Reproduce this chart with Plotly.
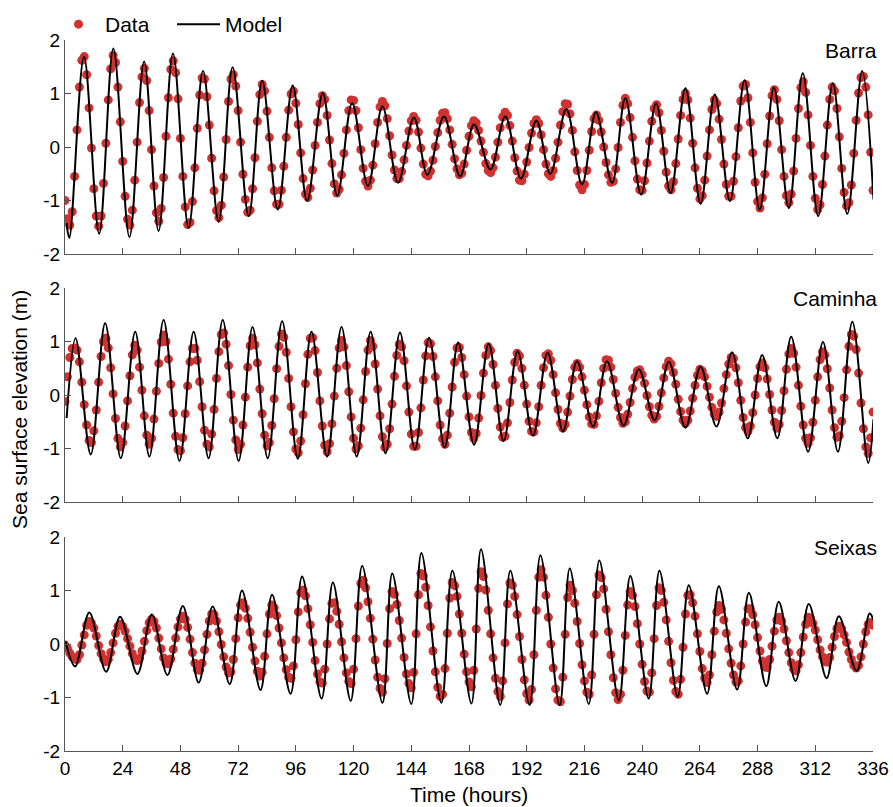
import plotly.graph_objects as go
from plotly.subplots import make_subplots

# ---------------- data ----------------
TICKS_X = [0, 24, 48, 72, 96, 120, 144, 168, 192, 216, 240, 264, 288, 312, 336]
TICKS_Y = [-2, -1, 0, 1, 2]
TICKTEXT_Y = ["-2", "-1", "0", "1", "2"]
STATIONS = ["Barra", "Caminha", "Seixas"]

# hourly observations (m)
BARRA_DATA = [
    -1.0, -1.34, -1.46, -1.21, -0.55, 0.32, 1.12, 1.62, 1.69, 1.35,
    0.73, -0.02, -0.78, -1.29, -1.48, -1.29, -0.68, 0.07, 0.88, 1.46,
    1.71, 1.58, 1.12, 0.47, -0.27, -0.92, -1.35, -1.46, -1.18, -0.62,
    0.09, 0.83, 1.31, 1.47, 1.24, 0.68, -0.05, -0.73, -1.23, -1.39,
    -1.15, -0.57, 0.2, 0.92, 1.45, 1.61, 1.39, 0.9, 0.16, -0.55,
    -1.12, -1.45, -1.41, -1.02, -0.39, 0.35, 0.97, 1.29, 1.27, 0.94,
    0.41, -0.21, -0.82, -1.19, -1.32, -1.09, -0.56, 0.14, 0.85, 1.27,
    1.35, 1.14, 0.68, 0.09, -0.51, -0.98, -1.22, -1.18, -0.78, -0.2,
    0.48, 0.98, 1.17, 1.05, 0.67, 0.18, -0.39, -0.82, -1.07, -1.07,
    -0.81, -0.36, 0.18, 0.69, 0.99, 1.04, 0.82, 0.42, -0.11, -0.59,
    -0.88, -0.94, -0.77, -0.43, 0.03, 0.46, 0.81, 0.96, 0.89, 0.59,
    0.13, -0.31, -0.69, -0.86, -0.79, -0.52, -0.12, 0.32, 0.68, 0.88,
    0.87, 0.68, 0.36, -0.05, -0.4, -0.64, -0.73, -0.62, -0.34, 0.06,
    0.46, 0.75, 0.85, 0.77, 0.53, 0.21, -0.15, -0.43, -0.59, -0.59,
    -0.46, -0.24, 0.03, 0.3, 0.49, 0.57, 0.5, 0.28, -0.02, -0.32,
    -0.51, -0.54, -0.45, -0.25, 0.01, 0.27, 0.5, 0.63, 0.64, 0.53,
    0.32, 0.05, -0.22, -0.41, -0.52, -0.49, -0.32, -0.06, 0.2, 0.4,
    0.49, 0.45, 0.31, 0.11, -0.1, -0.31, -0.44, -0.48, -0.39, -0.19,
    0.09, 0.36, 0.56, 0.65, 0.59, 0.4, 0.11, -0.2, -0.45, -0.62,
    -0.63, -0.51, -0.28, -0.01, 0.26, 0.44, 0.51, 0.44, 0.23, -0.05,
    -0.32, -0.5, -0.55, -0.44, -0.21, 0.09, 0.41, 0.66, 0.81, 0.8,
    0.62, 0.31, -0.09, -0.44, -0.71, -0.8, -0.7, -0.44, -0.06, 0.29,
    0.53, 0.6, 0.5, 0.28, 0.0, -0.29, -0.52, -0.66, -0.64, -0.41,
    -0.01, 0.46, 0.78, 0.91, 0.81, 0.55, 0.18, -0.26, -0.6, -0.8,
    -0.81, -0.63, -0.3, 0.11, 0.48, 0.72, 0.79, 0.64, 0.31, -0.08,
    -0.47, -0.73, -0.8, -0.65, -0.31, 0.15, 0.59, 0.89, 1.0, 0.88,
    0.54, 0.07, -0.39, -0.77, -0.97, -0.91, -0.62, -0.17, 0.32, 0.7,
    0.88, 0.81, 0.52, 0.14, -0.32, -0.7, -0.92, -0.92, -0.64, -0.18,
    0.36, 0.86, 1.14, 1.17, 0.92, 0.46, -0.11, -0.66, -1.02, -1.14,
    -0.95, -0.51, 0.06, 0.58, 0.96, 1.07, 0.89, 0.49, -0.05, -0.55,
    -0.91, -1.04, -0.88, -0.45, 0.16, 0.72, 1.11, 1.22, 1.02, 0.6,
    0.03, -0.55, -0.96, -1.17, -1.08, -0.7, -0.17, 0.41, 0.89, 1.12,
    1.05, 0.72, 0.19, -0.4, -0.85, -1.1, -1.04, -0.71, -0.12, 0.5,
    1.01, 1.3, 1.32, 1.12, 0.6, -0.1, -0.81,
]

CAMINHA_DATA = [
    -0.12, 0.34, 0.7, 0.87, 0.88, 0.84, 0.62, 0.24, -0.18, -0.56,
    -0.85, -0.89, -0.67, -0.28, 0.24, 0.72, 1.0, 1.06, 0.88, 0.51,
    0.02, -0.44, -0.81, -0.97, -0.89, -0.58, -0.11, 0.36, 0.75, 0.93,
    0.84, 0.52, 0.09, -0.39, -0.75, -0.92, -0.81, -0.45, 0.07, 0.59,
    0.99, 1.12, 1.0, 0.67, 0.2, -0.34, -0.77, -1.02, -1.04, -0.8,
    -0.35, 0.17, 0.62, 0.87, 0.87, 0.65, 0.25, -0.22, -0.66, -0.92,
    -0.97, -0.73, -0.27, 0.31, 0.81, 1.13, 1.16, 0.95, 0.55, 0.01,
    -0.47, -0.84, -1.02, -0.92, -0.56, -0.04, 0.52, 0.92, 1.06, 0.94,
    0.6, 0.11, -0.35, -0.75, -0.95, -0.89, -0.57, -0.07, 0.49, 0.91,
    1.14, 1.08, 0.8, 0.31, -0.22, -0.69, -1.01, -1.08, -0.86, -0.37,
    0.21, 0.76, 1.06, 1.07, 0.83, 0.42, -0.11, -0.58, -0.94, -1.06,
    -0.91, -0.54, -0.02, 0.5, 0.88, 1.02, 0.9, 0.55, 0.06, -0.41,
    -0.81, -1.01, -0.95, -0.62, -0.09, 0.44, 0.84, 1.02, 0.91, 0.58,
    0.11, -0.39, -0.78, -0.98, -0.92, -0.63, -0.17, 0.35, 0.74, 0.95,
    0.9, 0.64, 0.17, -0.32, -0.73, -0.96, -0.96, -0.7, -0.24, 0.28,
    0.73, 0.98, 0.96, 0.72, 0.34, -0.11, -0.56, -0.82, -0.92, -0.75,
    -0.34, 0.15, 0.61, 0.88, 0.89, 0.7, 0.38, -0.02, -0.41, -0.7,
    -0.81, -0.72, -0.43, -0.01, 0.41, 0.74, 0.9, 0.83, 0.57, 0.18,
    -0.25, -0.6, -0.79, -0.77, -0.52, -0.14, 0.28, 0.61, 0.78, 0.73,
    0.5, 0.18, -0.17, -0.49, -0.68, -0.69, -0.52, -0.22, 0.18, 0.51,
    0.74, 0.77, 0.65, 0.38, 0.04, -0.27, -0.53, -0.62, -0.55, -0.32,
    -0.02, 0.29, 0.52, 0.59, 0.52, 0.34, 0.09, -0.18, -0.41, -0.54,
    -0.55, -0.39, -0.12, 0.23, 0.5, 0.66, 0.65, 0.52, 0.29, 0.03,
    -0.23, -0.42, -0.53, -0.5, -0.36, -0.14, 0.12, 0.33, 0.45, 0.47,
    0.38, 0.22, -0.01, -0.22, -0.38, -0.45, -0.4, -0.21, 0.04, 0.32,
    0.53, 0.63, 0.58, 0.42, 0.2, -0.08, -0.31, -0.47, -0.53, -0.47,
    -0.3, -0.06, 0.18, 0.37, 0.48, 0.45, 0.34, 0.16, -0.04, -0.23,
    -0.36, -0.4, -0.32, -0.15, 0.12, 0.38, 0.58, 0.7, 0.68, 0.51,
    0.23, -0.1, -0.42, -0.61, -0.68, -0.58, -0.33, 0.0, 0.31, 0.53,
    0.6, 0.51, 0.3, 0.01, -0.28, -0.51, -0.62, -0.55, -0.29, 0.08,
    0.48, 0.77, 0.87, 0.78, 0.52, 0.18, -0.21, -0.56, -0.81, -0.9,
    -0.8, -0.51, -0.1, 0.34, 0.66, 0.81, 0.75, 0.49, 0.13, -0.28,
    -0.61, -0.79, -0.76, -0.49, -0.05, 0.47, 0.91, 1.13, 1.1, 0.85,
    0.41, -0.15, -0.63, -0.97, -1.09, -0.8, -0.32,
]

SEIXAS_DATA = [
    -0.02, -0.08, -0.17, -0.24, -0.28, -0.29, -0.2, -0.02, 0.17, 0.35,
    0.42, 0.39, 0.3, 0.15, -0.03, -0.18, -0.28, -0.33, -0.29, -0.16,
    0.02, 0.2, 0.33, 0.37, 0.33, 0.24, 0.1, -0.04, -0.18, -0.27,
    -0.31, -0.27, -0.13, 0.05, 0.25, 0.4, 0.46, 0.42, 0.3, 0.11,
    -0.09, -0.26, -0.36, -0.37, -0.28, -0.1, 0.11, 0.32, 0.47, 0.52,
    0.46, 0.31, 0.09, -0.16, -0.36, -0.48, -0.49, -0.36, -0.11, 0.18,
    0.43, 0.56, 0.55, 0.43, 0.23, -0.01, -0.24, -0.43, -0.54, -0.52,
    -0.29, 0.1, 0.49, 0.73, 0.77, 0.67, 0.48, 0.22, -0.06, -0.32,
    -0.51, -0.6, -0.53, -0.23, 0.19, 0.56, 0.73, 0.68, 0.53, 0.3,
    0.02, -0.26, -0.48, -0.62, -0.64, -0.41, 0.08, 0.6, 0.96, 1.01,
    0.9, 0.66, 0.36, 0.03, -0.31, -0.56, -0.71, -0.73, -0.47, 0.0,
    0.47, 0.76, 0.77, 0.61, 0.37, 0.04, -0.26, -0.54, -0.7, -0.74,
    -0.47, 0.1, 0.71, 1.13, 1.19, 1.05, 0.79, 0.48, 0.09, -0.3,
    -0.62, -0.83, -0.9, -0.65, 0.01, 0.66, 0.98, 0.93, 0.74, 0.44,
    0.11, -0.25, -0.56, -0.74, -0.82, -0.53, 0.19, 0.92, 1.32, 1.27,
    1.06, 0.72, 0.32, -0.13, -0.52, -0.81, -0.98, -0.94, -0.46, 0.2,
    0.86, 1.15, 1.09, 0.89, 0.56, 0.2, -0.19, -0.52, -0.71, -0.8,
    -0.49, 0.28, 1.04, 1.35, 1.26, 1.01, 0.63, 0.19, -0.26, -0.64,
    -0.89, -0.98, -0.69, 0.02, 0.75, 1.14, 1.1, 0.89, 0.55, 0.14,
    -0.29, -0.67, -0.93, -1.05, -0.85, -0.2, 0.63, 1.25, 1.39, 1.25,
    0.91, 0.5, 0.0, -0.45, -0.84, -1.05, -1.08, -0.62, 0.18, 0.87,
    1.1, 1.0, 0.76, 0.42, 0.01, -0.39, -0.69, -0.9, -0.94, -0.58,
    0.18, 0.92, 1.29, 1.24, 1.03, 0.65, 0.23, -0.2, -0.63, -0.91,
    -1.04, -0.94, -0.49, 0.16, 0.73, 0.98, 0.91, 0.7, 0.38, 0.0,
    -0.38, -0.7, -0.88, -0.9, -0.54, 0.1, 0.72, 1.05, 1.0, 0.78,
    0.45, 0.05, -0.35, -0.68, -0.89, -0.94, -0.66, -0.06, 0.56, 0.91,
    0.92, 0.77, 0.52, 0.19, -0.14, -0.46, -0.64, -0.72, -0.58, -0.2,
    0.24, 0.6, 0.72, 0.65, 0.45, 0.2, -0.09, -0.36, -0.58, -0.71,
    -0.69, -0.41, 0.0, 0.41, 0.66, 0.66, 0.55, 0.36, 0.12, -0.13,
    -0.32, -0.43, -0.44, -0.29, -0.04, 0.24, 0.45, 0.5, 0.43, 0.28,
    0.06, -0.16, -0.35, -0.47, -0.5, -0.39, -0.16, 0.13, 0.37, 0.5,
    0.48, 0.39, 0.26, 0.08, -0.11, -0.24, -0.33, -0.34, -0.25, -0.06,
    0.14, 0.29, 0.33, 0.28, 0.17, 0.03, -0.15, -0.29, -0.4, -0.45,
    -0.4, -0.24, 0.0, 0.23, 0.37, 0.4, 0.35,
]

# model: times (h) and heights (m) of successive turning points
BARRA_MODEL_T = [0.6, 1.8, 7.9, 14.2, 20.1, 26.8, 32.9, 38.9, 44.9, 51.4,
                 57.4, 63.9, 69.7, 76.4, 82.0, 88.5, 94.7, 100.7, 107.2, 113.2,
                 119.4, 126.0, 132.0, 138.5, 145.1, 150.7, 157.6, 164.3, 170.1, 176.9,
                 183.1, 189.6, 196.0, 201.8, 208.5, 215.0, 220.8, 227.5, 233.0, 239.6,
                 245.8, 251.8, 258.0, 264.3, 270.2, 276.5, 282.6, 288.9, 294.8, 301.0,
                 306.8, 313.2, 319.3, 325.3, 331.5, 336.2]
BARRA_MODEL_H = [-1.42, -1.70, 1.69, -1.62, 1.84, -1.68, 1.60, -1.57, 1.75, -1.51,
                 1.42, -1.40, 1.49, -1.29, 1.24, -1.17, 1.15, -1.01, 1.01, -0.91,
                 0.82, -0.73, 0.76, -0.67, 0.55, -0.52, 0.57, -0.55, 0.42, -0.42,
                 0.57, -0.59, 0.49, -0.50, 0.71, -0.70, 0.65, -0.67, 0.91, -0.89,
                 0.82, -0.86, 1.10, -1.06, 0.98, -1.01, 1.25, -1.17, 1.11, -1.14,
                 1.38, -1.29, 1.19, -1.25, 1.42, -0.98]

CAMINHA_MODEL_T = [0.7, 4.4, 10.7, 16.7, 23.2, 29.2, 35.1, 41.0, 47.6, 53.5,
                   59.7, 65.6, 72.2, 78.0, 84.3, 90.3, 96.8, 102.5, 109.0, 115.0,
                   121.3, 127.1, 133.3, 139.3, 145.5, 151.4, 157.9, 163.5, 170.1, 176.2,
                   182.4, 188.2, 194.6, 200.7, 207.1, 212.9, 219.6, 225.4, 232.3, 238.6,
                   245.2, 251.1, 258.0, 264.3, 270.9, 277.4, 283.9, 289.9, 296.2, 302.0,
                   309.0, 315.2, 321.4, 327.4, 334.0, 336.2]
CAMINHA_MODEL_H = [-0.43, 1.06, -1.11, 1.34, -1.18, 1.18, -1.15, 1.40, -1.23, 1.18,
                   -1.18, 1.40, -1.23, 1.27, -1.18, 1.38, -1.19, 1.18, -1.15, 1.27,
                   -1.15, 1.18, -1.09, 1.17, -1.02, 1.07, -0.98, 0.98, -0.93, 0.96,
                   -0.86, 0.82, -0.76, 0.79, -0.68, 0.63, -0.59, 0.63, -0.57, 0.48,
                   -0.47, 0.62, -0.61, 0.53, -0.59, 0.80, -0.81, 0.75, -0.81, 1.09,
                   -1.06, 0.99, -1.06, 1.37, -1.27, -0.45]

SEIXAS_MODEL_T = [0.2, 4.2, 10.1, 17.1, 22.9, 30.1, 36.1, 42.6, 49.0, 55.6,
                  61.4, 68.5, 73.6, 81.3, 86.1, 93.8, 98.6, 106.7, 111.4, 118.8,
                  123.6, 132.0, 136.1, 144.0, 148.2, 156.5, 161.1, 169.0, 173.0, 181.0,
                  185.2, 193.2, 197.7, 205.7, 209.9, 217.8, 222.2, 230.3, 235.1, 242.7,
                  247.2, 254.8, 259.4, 267.0, 271.9, 279.5, 284.4, 291.6, 296.8, 303.8,
                  309.3, 316.7, 321.8, 329.2, 334.6, 336.2]
SEIXAS_MODEL_H = [0.05, -0.42, 0.59, -0.52, 0.51, -0.56, 0.55, -0.58, 0.71, -0.72,
                  0.70, -0.75, 1.00, -0.86, 0.92, -0.93, 1.26, -1.02, 1.15, -1.06,
                  1.46, -1.10, 1.32, -1.12, 1.70, -1.10, 1.37, -1.11, 1.77, -1.14,
                  1.37, -1.14, 1.66, -1.14, 1.41, -1.12, 1.56, -1.05, 1.27, -1.02,
                  1.37, -0.98, 1.10, -0.93, 1.08, -0.85, 0.96, -0.79, 0.79, -0.69,
                  0.75, -0.64, 0.52, -0.50, 0.57, 0.45]

DATA = [BARRA_DATA, CAMINHA_DATA, SEIXAS_DATA]
MODEL_T = [BARRA_MODEL_T, CAMINHA_MODEL_T, SEIXAS_MODEL_T]
MODEL_H = [BARRA_MODEL_H, CAMINHA_MODEL_H, SEIXAS_MODEL_H]

# ---------------- figure ----------------
FONT = "Liberation Sans, Arial, Helvetica, sans-serif"
RED = "#d1312f"
AXC = "#555555"

W, H = 893, 807
ML, MR, MT, MB = 65, 20, 40, 56
PH = H - MT - MB
PW = W - ML - MR

def ydom(top_px, bot_px):
    return [(H - MB - bot_px) / PH, (H - MB - top_px) / PH]

DOMAINS = [ydom(40, 254), ydom(288, 502), ydom(537, 751)]

fig = make_subplots(rows=3, cols=1)

for i in range(3):
    r = i + 1
    hours = list(range(len(DATA[i])))
    fig.add_trace(go.Scatter(
        x=hours, y=DATA[i], mode="markers", name="Data",
        marker=dict(color=RED, size=9, line=dict(width=0)),
        showlegend=(i == 0), legendrank=1,
    ), row=r, col=1)
    fig.add_trace(go.Scatter(
        x=MODEL_T[i], y=MODEL_H[i], mode="lines", name="Model",
        line=dict(color="black", width=2, shape="spline", smoothing=1.0),
        showlegend=(i == 0), legendrank=2,
    ), row=r, col=1)

for i in range(3):
    r = i + 1
    fig.update_xaxes(
        range=[0, 336], tickvals=TICKS_X, ticktext=[str(v) for v in TICKS_X],
        ticks="inside", ticklen=6, tickcolor=AXC, tickwidth=1,
        showline=True, linecolor=AXC, linewidth=1, showgrid=False, zeroline=False,
        showticklabels=(r == 3), tickfont=dict(family=FONT, size=19, color="black"),
        domain=[0, 1], row=r, col=1,
    )
    fig.update_yaxes(
        range=[-2, 2], tickvals=TICKS_Y, ticktext=TICKTEXT_Y,
        ticks="inside", ticklen=6, tickcolor=AXC, tickwidth=1,
        showline=True, linecolor=AXC, linewidth=1, showgrid=False, zeroline=False,
        tickfont=dict(family=FONT, size=19, color="black"),
        domain=DOMAINS[i], row=r, col=1,
    )

annotations = []
label_y = [(H - MB - 51) / PH, (H - MB - 299) / PH, (H - MB - 547) / PH]
for i, name in enumerate(STATIONS):
    annotations.append(dict(
        text=name, xref="paper", yref="paper", x=(879 - ML) / PW,
        y=label_y[i], xanchor="right", yanchor="middle", showarrow=False,
        font=dict(family=FONT, size=21, color="black"),
    ))
annotations.append(dict(
    text="Sea surface elevation (m)", xref="paper", yref="paper",
    x=(20 - ML) / PW, y=(H - MB - 410) / PH, textangle=-90,
    xanchor="center", yanchor="middle", showarrow=False,
    font=dict(family=FONT, size=21, color="black"),
))
annotations.append(dict(
    text="Time (hours)", xref="paper", yref="paper",
    x=0.5, y=(H - MB - 794) / PH, xanchor="center", yanchor="middle",
    showarrow=False, font=dict(family=FONT, size=21, color="black"),
))

fig.update_layout(
    width=W, height=H,
    margin=dict(l=ML, r=MR, t=MT, b=MB, autoexpand=False),
    paper_bgcolor="white", plot_bgcolor="white",
    font=dict(family=FONT, size=19, color="black"),
    annotations=annotations,
    legend=dict(
        orientation="h", x=(52 - ML) / PW, xanchor="left",
        y=(H - MB - 4) / PH, yanchor="top",
        font=dict(family=FONT, size=21, color="black"),
        bgcolor="rgba(0,0,0,0)", entrywidth=62, entrywidthmode="pixels",
        itemwidth=43, itemsizing="trace",
    ),
)

fig.write_html(
    "out.html",
    config={"displayModeBar": False},
    post_script=(
        "document.body.style.margin='0';"
        "document.body.style.overflow='hidden';"
        "document.documentElement.style.overflow='hidden';"
    ),
)
